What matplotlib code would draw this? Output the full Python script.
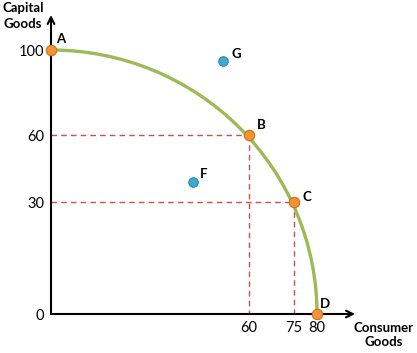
"""Production possibilities frontier: capital vs consumer goods."""

import matplotlib
matplotlib.use("Agg")
import matplotlib.pyplot as plt  # noqa: E402
import numpy as np  # noqa: E402
from matplotlib.patches import Arc  # noqa: E402

# points on the frontier
ppf_labels = ["A", "B", "C", "D"]
ppf_consumer = [0, 60, 75, 80]
ppf_capital = [100, 60, 30, 0]

# points off the frontier
off_labels = ["G", "F"]
off_consumer = [52, 43]
off_capital = [95, 39]

# dashed guides go to B and C
guide_labels = ["B", "C"]

x_ticks = [60, 75, 80]
y_ticks = [0, 30, 60, 100]

# the drawing is schematic: tick values are not evenly spaced on screen
X_ANCHOR = ([0, 60, 75, 80, 100], [0, 198, 242.7, 266, 332.5])
Y_ANCHOR = ([0, 30, 60, 100, 120], [0, 112, 179, 264, 317.6])

W, H = 417, 353
ORIGIN = (51, 314)          # pixel position of (0, 0)
X_END, Y_END = 355, 15      # arrow tips, pixels

GREEN = "#9bbb59"
ORANGE = "#f39433"
ORANGE_EDGE = "#c8701c"
BLUE = "#3fa9cf"
BLUE_EDGE = "#2a86a8"
RED = "#c8504d"
FONT = ["Lato", "DejaVu Sans"]
FS = 9.5
TICK_FS = 10.5


def fwd(anchor):
    return lambda v: np.interp(v, anchor[0], anchor[1])


def inv(anchor):
    return lambda v: np.interp(v, anchor[1], anchor[0])


plt.rcParams["font.family"] = FONT

fig = plt.figure(figsize=(W / 100, H / 100), dpi=100)
ax = fig.add_axes([ORIGIN[0] / W, (H - ORIGIN[1]) / H,
                   (X_END - ORIGIN[0]) / W, (ORIGIN[1] - Y_END) / H])
ax.set_xscale("function", functions=(fwd(X_ANCHOR), inv(X_ANCHOR)))
ax.set_yscale("function", functions=(fwd(Y_ANCHOR), inv(Y_ANCHOR)))
ax.set_xlim(0, inv(X_ANCHOR)(X_END - ORIGIN[0]))
ax.set_ylim(0, inv(Y_ANCHOR)(ORIGIN[1] - Y_END))
for s in ax.spines.values():
    s.set_visible(False)

# axes with arrows
arrow = dict(arrowstyle="->", lw=1.5, color="black", shrinkA=0, shrinkB=0,
             mutation_scale=12)
ax.annotate("", xy=(ax.get_xlim()[1], 0), xytext=(0, 0),
            arrowprops=arrow, annotation_clip=False)
ax.annotate("", xy=(0, ax.get_ylim()[1]), xytext=(0, 0),
            arrowprops=arrow, annotation_clip=False)

# dashed guides
for lab, x, y in zip(ppf_labels, ppf_consumer, ppf_capital):
    if lab in guide_labels:
        ax.plot([0, x], [y, y], color=RED, lw=1, ls=(0, (4, 3)), zorder=2)
        ax.plot([x, x], [y, 0], color=RED, lw=1, ls=(0, (4, 3)), zorder=2)

# frontier: a quarter circle on screen through A and D
rx = fwd(X_ANCHOR)(max(ppf_consumer))
ry = fwd(Y_ANCHOR)(max(ppf_capital))
ax.add_patch(Arc((0, 0), 2 * rx, 2 * ry, theta1=0, theta2=90,
                 transform=ax.transLimits + ax.transAxes,
                 color=GREEN, lw=2.4, zorder=3))

ax.plot(ppf_consumer, ppf_capital, ls="none", marker="o", ms=7.5,
        mfc=ORANGE, mec=ORANGE_EDGE, mew=0.8, clip_on=False, zorder=5)
ax.plot(off_consumer, off_capital, ls="none", marker="o", ms=6.8,
        mfc=BLUE, mec=BLUE_EDGE, mew=0.8, clip_on=False, zorder=5)

offsets = {"A": (5, 11), "B": (8, 10), "C": (9, 5), "D": (3, 10),
           "G": (9, 7), "F": (7, 8)}
for lab, x, y in zip(ppf_labels + off_labels, ppf_consumer + off_consumer,
                     ppf_capital + off_capital):
    ax.annotate(lab, (x, y), xytext=offsets[lab], textcoords="offset pixels",
                ha="left", va="center", fontsize=FS, fontweight="bold",
                annotation_clip=False)

ax.set_xticks(x_ticks)
ax.set_xticklabels([str(t) for t in x_ticks], fontsize=TICK_FS)
ax.set_yticks(y_ticks)
ax.set_yticklabels([str(t) for t in y_ticks], fontsize=TICK_FS)
ax.tick_params(length=0, pad=5)
ax.tick_params(axis="x", pad=5)

fig.text(23 / W, 1 - 16 / H, "Capital\nGoods", ha="center", va="center",
         fontsize=FS, fontweight="bold", linespacing=1.3)
fig.text(384 / W, 1 - 335 / H, "Consumer\nGoods", ha="center", va="center",
         fontsize=FS, fontweight="bold", linespacing=1.3)

fig.savefig("out.png", dpi=100)
